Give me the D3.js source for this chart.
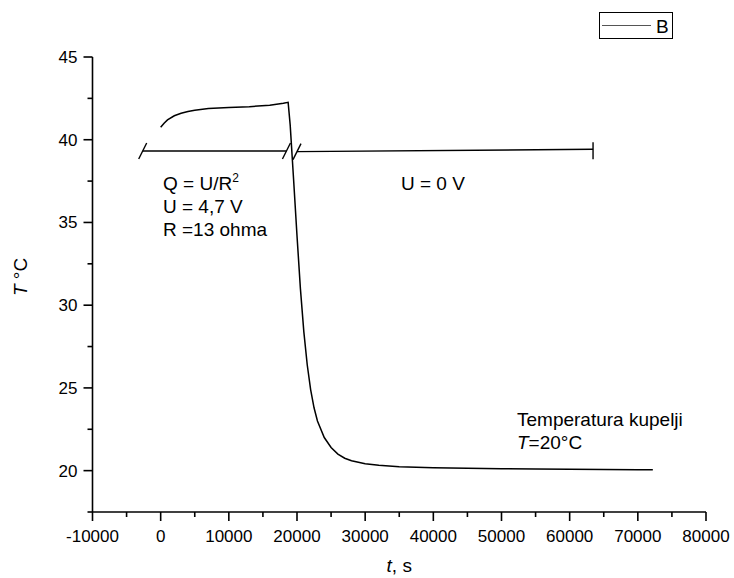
<!DOCTYPE html>
<html>
<head>
<meta charset="utf-8">
<script src="https://cdn.jsdelivr.net/npm/d3@7"></script>
<style>
    body { margin: 0; background: #fff; }
    svg { display: block; font-family: Arial, 'Liberation Sans', sans-serif; }
</style>
</head>
<body>
<svg id="chart" width="734" height="578"></svg>
<script>
// measured temperature of the sample, time in seconds
const timeS = [0, 500, 1000, 2000, 3000, 4000, 5000, 7000, 10000, 13000, 16000, 18000, 18700,
    19000, 19500, 20000, 20500, 21000, 21500, 22000, 22500, 23000, 24000, 25000, 26000, 27000,
    28000, 30000, 32000, 35000, 40000, 45000, 50000, 55000, 60000, 65000, 70000, 72200]
const tempC = [40.75, 41.0, 41.2, 41.45, 41.6, 41.7, 41.78, 41.88, 41.95, 42.0, 42.08, 42.2, 42.26,
    40.9, 37.6, 34.2, 31.0, 28.4, 26.4, 24.9, 23.8, 23.0, 22.0, 21.4, 21.0, 20.75,
    20.6, 20.42, 20.32, 20.24, 20.18, 20.15, 20.12, 20.1, 20.08, 20.07, 20.06, 20.05]

const xTicks = [-10000, 0, 10000, 20000, 30000, 40000, 50000, 60000, 70000, 80000]
const yTicks = [20, 25, 30, 35, 40, 45]
const xDomain = [-10000, 80000]
const yDomain = [17.5, 45]

// heating / cooling period markers: [t1, T1, t2, T2]
const periods = [
    [-2640, 39.32, 18450, 39.32],
    [20000, 39.28, 63430, 39.42]
]
const legendLabel = 'B'

const margin = { left: 92.5, right: 28, top: 57, bottom: 66 }
const width = 734
const height = 578

const svg = d3.select('#chart')

const x = d3.scaleLinear().domain(xDomain).range([margin.left, width - margin.right])
const y = d3.scaleLinear().domain(yDomain).range([height - margin.bottom, margin.top])

const minorX = d3.range(xDomain[0] + 5000, xDomain[1], 10000)
const minorY = d3.range(yDomain[0], yDomain[1], 5)

// x axis
const gx = svg.append('g').attr('transform', `translate(0,${y(yDomain[0])})`)
gx.append('line')
    .attr('x1', x(xDomain[0])).attr('x2', x(xDomain[1]))
    .attr('stroke', '#000').attr('stroke-width', 1.6)
gx.selectAll('.major').data(xTicks).enter().append('line')
    .attr('x1', (d) => x(d)).attr('x2', (d) => x(d))
    .attr('y1', 0).attr('y2', 9)
    .attr('stroke', '#000').attr('stroke-width', 1.6)
gx.selectAll('.minor').data(minorX).enter().append('line')
    .attr('x1', (d) => x(d)).attr('x2', (d) => x(d))
    .attr('y1', 0).attr('y2', 5)
    .attr('stroke', '#000').attr('stroke-width', 1.6)
gx.selectAll('text').data(xTicks).enter().append('text')
    .attr('x', (d) => x(d)).attr('y', 30)
    .attr('text-anchor', 'middle')
    .attr('font-size', 17)
    .text((d) => d)

// y axis
const gy = svg.append('g').attr('transform', `translate(${x(xDomain[0])},0)`)
gy.append('line')
    .attr('y1', y(yDomain[0])).attr('y2', y(yDomain[1]))
    .attr('stroke', '#000').attr('stroke-width', 1.6)
gy.selectAll('.major').data(yTicks).enter().append('line')
    .attr('y1', (d) => y(d)).attr('y2', (d) => y(d))
    .attr('x1', 0).attr('x2', -9)
    .attr('stroke', '#000').attr('stroke-width', 1.6)
gy.selectAll('.minor').data(minorY).enter().append('line')
    .attr('y1', (d) => y(d)).attr('y2', (d) => y(d))
    .attr('x1', 0).attr('x2', -5)
    .attr('stroke', '#000').attr('stroke-width', 1.6)
gy.selectAll('text').data(yTicks).enter().append('text')
    .attr('x', -15).attr('y', (d) => y(d) + 6)
    .attr('text-anchor', 'end')
    .attr('font-size', 17)
    .text((d) => d)

// axis titles
svg.append('text')
    .attr('x', (x(xDomain[0]) + x(xDomain[1])) / 2).attr('y', 572)
    .attr('text-anchor', 'middle').attr('font-size', 19)
    .html('<tspan font-style="italic">t</tspan>, s')
svg.append('text')
    .attr('transform', 'translate(27,277) rotate(-90)')
    .attr('text-anchor', 'middle').attr('font-size', 19)
    .html('<tspan font-style="italic">T</tspan> °C')

// data curve
const line = d3.line()
    .x((d, i) => x(timeS[i]))
    .y((d) => y(d))
svg.append('path')
    .datum(tempC)
    .attr('d', line)
    .attr('fill', 'none')
    .attr('stroke', '#000')
    .attr('stroke-width', 1.5)

// period markers
const gp = svg.append('g').attr('stroke', '#000').attr('stroke-width', 1.4)
periods.forEach((p, i) => {
    gp.append('line')
        .attr('x1', x(p[0])).attr('y1', y(p[1]))
        .attr('x2', x(p[2])).attr('y2', y(p[3]))
    // slashes at the start, and at the end of the first one
    const slash = (t, T) => {
        gp.append('line')
            .attr('x1', x(t) - 4).attr('y1', y(T) + 8)
            .attr('x2', x(t) + 4).attr('y2', y(T) - 8)
    }
    slash(p[0], p[1])
    if (i === 0) {
        slash(p[2], p[3])
    } else {
        gp.append('line')
            .attr('x1', x(p[2])).attr('y1', y(p[3]) - 7)
            .attr('x2', x(p[2])).attr('y2', y(p[3]) + 10)
    }
})

// annotations
const notes = svg.append('g').attr('font-size', 19)
notes.append('text').attr('x', 163).attr('y', 190)
    .html('Q = U/R<tspan font-size="12" dy="-8">2</tspan>')
notes.append('text').attr('x', 163).attr('y', 213).text('U = 4,7 V')
notes.append('text').attr('x', 163).attr('y', 236).text('R =13 ohma')
notes.append('text').attr('x', 401).attr('y', 190).text('U = 0 V')
notes.append('text').attr('x', 517).attr('y', 426).text('Temperatura kupelji')
notes.append('text').attr('x', 517).attr('y', 449)
    .html('<tspan font-style="italic">T</tspan>=20°C')

// legend
const lg = svg.append('g')
lg.append('rect')
    .attr('x', 599.5).attr('y', 12.5).attr('width', 73).attr('height', 26)
    .attr('fill', '#fff').attr('stroke', '#000').attr('stroke-width', 1)
lg.append('line')
    .attr('x1', 602).attr('x2', 651).attr('y1', 25.5).attr('y2', 25.5)
    .attr('stroke', '#555').attr('stroke-width', 1.2)
lg.append('text')
    .attr('x', 656).attr('y', 33).attr('font-size', 19)
    .text(legendLabel)
</script>
</body>
</html>
